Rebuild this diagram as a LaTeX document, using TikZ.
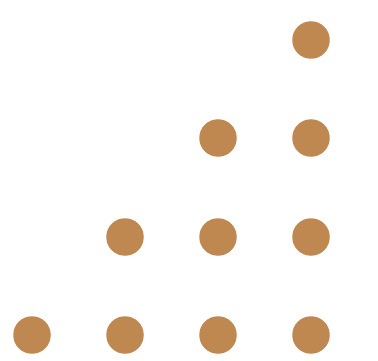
\documentclass[tikz,border=0pt]{standalone}
\definecolor{dotc}{HTML}{BF8850}
\begin{document}
\begin{tikzpicture}[x=1pt,y=-1pt,dot/.style={circle,fill=dotc,inner sep=0pt,minimum size=37.5pt}]
\useasboundingbox (0,0) rectangle (378,361);
\node[dot] (d41) at (311,40) {};
\node[dot] (d31) at (218,138) {};
\node[dot] (d42) at (311,138) {};
\node[dot] (d21) at (125,237) {};
\node[dot] (d32) at (218,237) {};
\node[dot] (d43) at (311,237) {};
\node[dot] (d11) at (32,335) {};
\node[dot] (d22) at (125,335) {};
\node[dot] (d33) at (218,335) {};
\node[dot] (d44) at (311,335) {};
\end{tikzpicture}
\end{document}
